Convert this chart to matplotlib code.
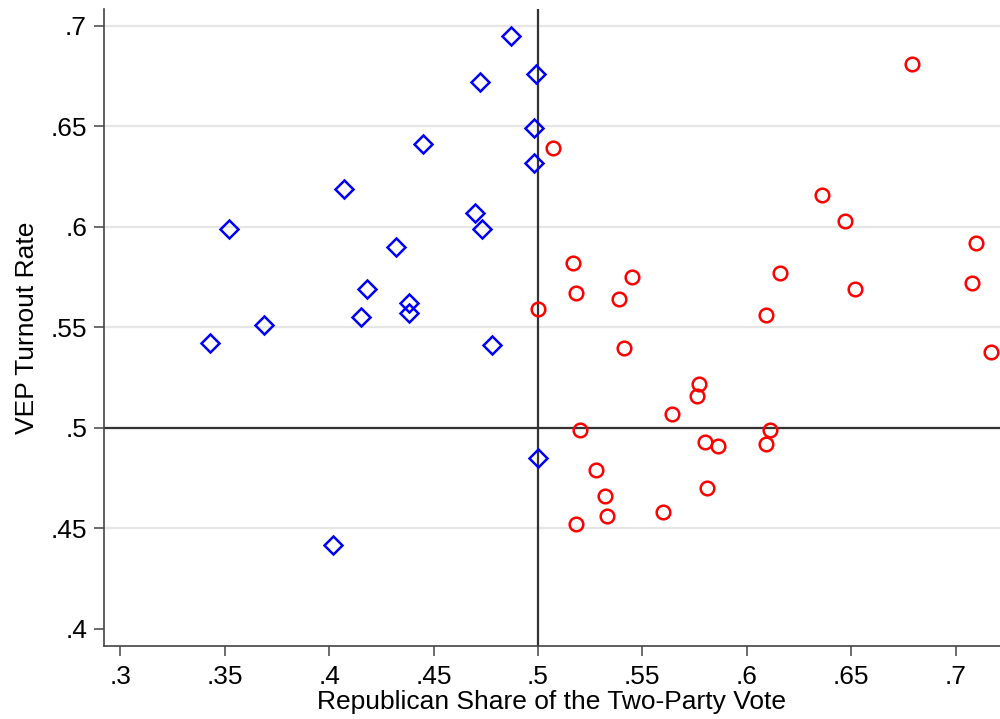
import matplotlib.pyplot as plt

# Democratic-won states (blue diamonds)
dem_share = [0.343, 0.352, 0.369, 0.402, 0.407, 0.415, 0.418, 0.432, 0.438, 0.438,
             0.445, 0.470, 0.473, 0.472, 0.478, 0.487, 0.499, 0.498, 0.498, 0.500]
dem_turnout = [0.542, 0.599, 0.551, 0.442, 0.619, 0.555, 0.569, 0.590, 0.562, 0.557,
               0.641, 0.607, 0.599, 0.672, 0.541, 0.695, 0.676, 0.649, 0.632, 0.485]

# Republican-won states (red circles)
rep_share = [0.679, 0.507, 0.636, 0.647, 0.710, 0.517, 0.545, 0.616, 0.518, 0.539,
             0.652, 0.708, 0.500, 0.609, 0.541, 0.717, 0.577, 0.576, 0.564, 0.520,
             0.611, 0.580, 0.586, 0.609, 0.528, 0.532, 0.581, 0.533, 0.560, 0.518]
rep_turnout = [0.681, 0.639, 0.616, 0.603, 0.592, 0.582, 0.575, 0.577, 0.567, 0.564,
               0.569, 0.572, 0.559, 0.556, 0.540, 0.538, 0.522, 0.516, 0.507, 0.499,
               0.499, 0.493, 0.491, 0.492, 0.479, 0.466, 0.470, 0.456, 0.458, 0.452]

xticks = [0.3, 0.35, 0.4, 0.45, 0.5, 0.55, 0.6, 0.65, 0.7]
xlabels = ['.3', '.35', '.4', '.45', '.5', '.55', '.6', '.65', '.7']
yticks = [0.4, 0.45, 0.5, 0.55, 0.6, 0.65, 0.7]
ylabels = ['.4', '.45', '.5', '.55', '.6', '.65', '.7']

plt.rcParams['font.family'] = ['Liberation Sans', 'DejaVu Sans']

fig = plt.figure(figsize=(10, 7.19), dpi=100)
ax = fig.add_axes([0.1037, 0.102, 0.8963, 0.885])

# light gridlines (not at the bottom tick)
for v in yticks[1:]:
    ax.axhline(v, color='#e6e6e6', lw=1.6, zorder=0)
# reference lines
ax.axhline(0.5, color='#333333', lw=1.6, zorder=1)
ax.axvline(0.5, color='#333333', lw=1.6, zorder=1)

ax.plot(dem_share, dem_turnout, 'D', ms=9.3, mfc='none', mec='#0000ff', mew=1.8, zorder=3)
ax.plot(rep_share, rep_turnout, 'o', ms=9.8, mfc='none', mec='#ff0000', mew=1.8, zorder=3)

ax.set_xlim(0.292, 0.7213)
ax.set_ylim(0.3917, 0.7082)
ax.set_xticks(xticks)
ax.set_xticklabels(xlabels)
ax.set_yticks(yticks)
ax.set_yticklabels(ylabels)

for s in ['top', 'right']:
    ax.spines[s].set_visible(False)
for s in ['left', 'bottom']:
    ax.spines[s].set_color('#444444')
    ax.spines[s].set_linewidth(1.2)
ax.tick_params(direction='out', length=7, width=1.1, color='#444444',
               labelsize=19)
ax.tick_params(axis='x', pad=7)
ax.tick_params(axis='y', pad=5)

ax.set_xlabel('Republican Share of the Two-Party Vote', fontsize=19, labelpad=1)
ax.set_ylabel('VEP Turnout Rate', fontsize=19, labelpad=8)

fig.savefig('out.png', dpi=100)
